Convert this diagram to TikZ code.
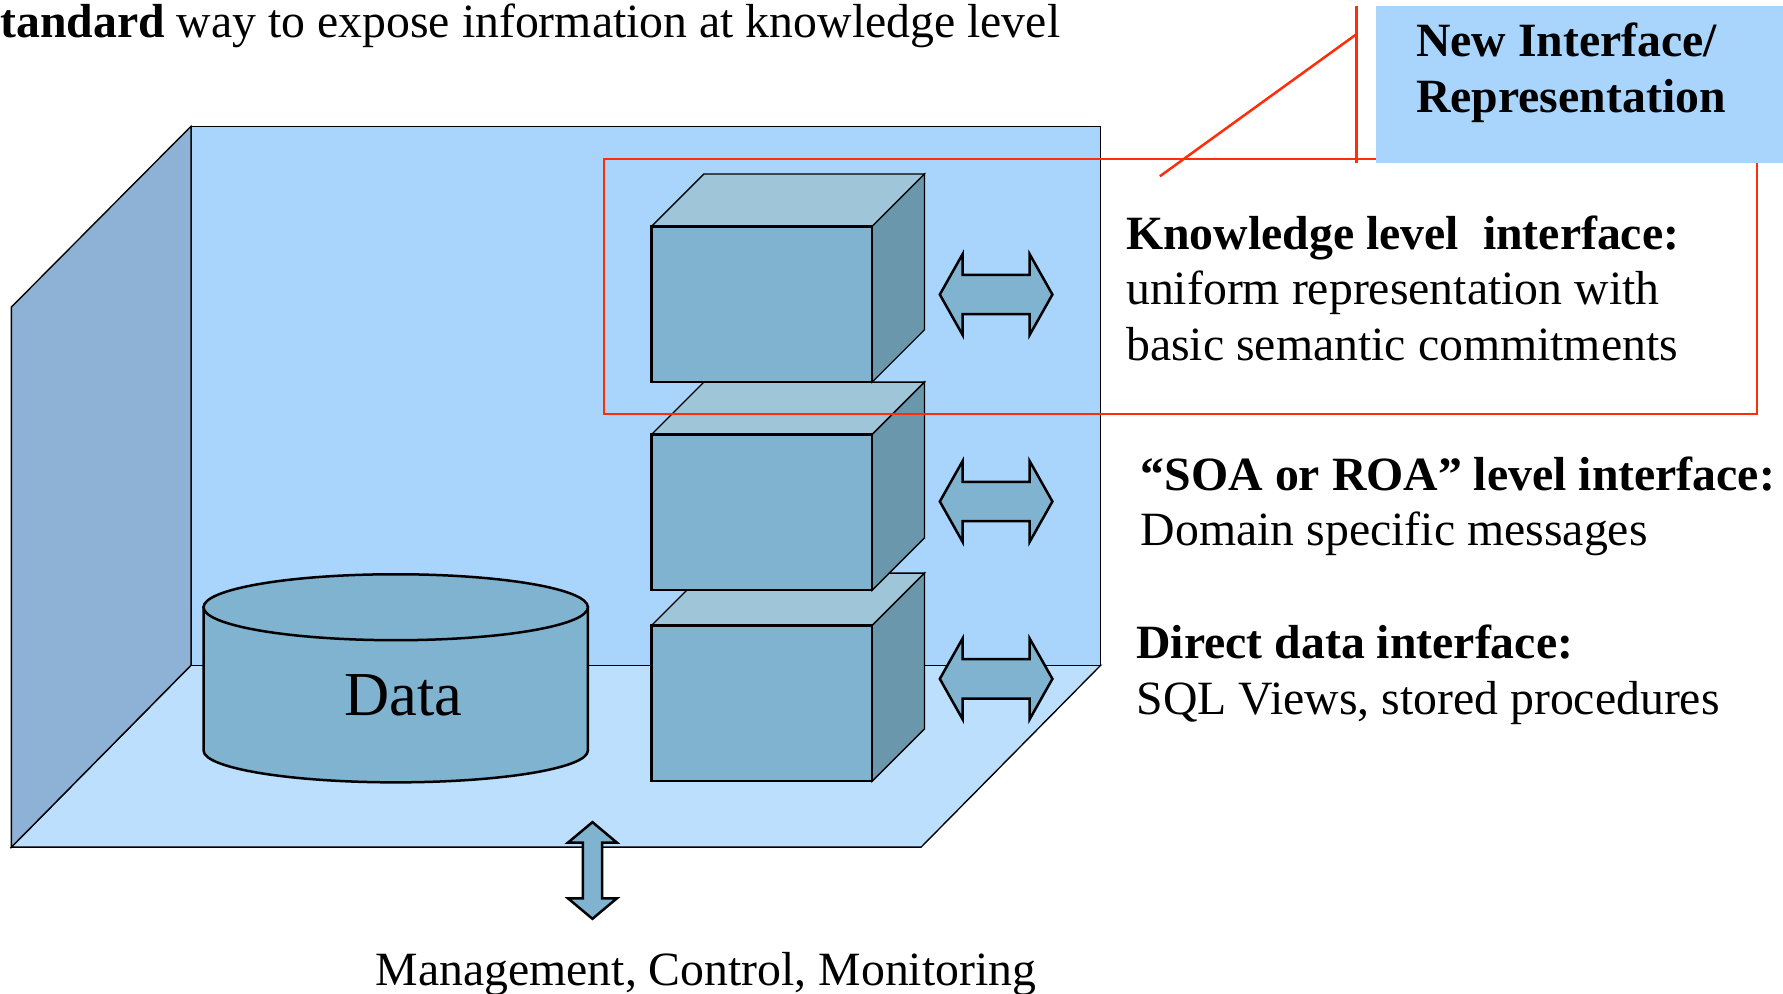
\documentclass[tikz,border=0pt]{standalone}
\usepackage{fontspec}
\setmainfont{Liberation Serif}
\definecolor{wallback}{HTML}{A9D5FC}
\definecolor{wallside}{HTML}{8DB2D5}
\definecolor{floorc}{HTML}{BBDFFD}
\definecolor{cubefront}{HTML}{80B3D0}
\definecolor{cubetop}{HTML}{9EC5D8}
\definecolor{cubeside}{HTML}{6A97AC}
\definecolor{hilite}{HTML}{FF2D0A}
\tikzset{
  lbl/.style={font=\fontsize{21}{24.5}\selectfont, inner sep=0pt, anchor=base west},
  thinedge/.style={draw=black, line width=0.6pt},
  thickedge/.style={draw=black, line width=1.1pt, line join=miter},
  redline/.style={draw=hilite, line width=1.1pt},
  fatarrow/.style={fill=cubefront, draw=black, line width=1.1pt, line join=miter},
  % a box seen in perspective; origin at the front top-left corner
  block/.pic={
    \path[fill=cubetop, thinedge] (0,0) -- (46,-46) -- (240,-46) -- (194,0) -- cycle;
    \path[fill=cubeside, thinedge] (194,0) -- (240,-46) -- (240,91) -- (194,137) -- cycle;
    \path[fill=cubefront, thickedge] (0,0) rectangle (194,137);
  },
  % horizontal double-headed block arrow, centred at the origin
  harrow/.pic={
    \path[fatarrow] (-49.5,0) -- (-29.5,-35.5) -- (-29.5,-17.3) -- (29.5,-17.3)
      -- (29.5,-35.5) -- (49.5,0) -- (29.5,35.5) -- (29.5,17.3) -- (-29.5,17.3)
      -- (-29.5,35.5) -- cycle;
  },
  % vertical double-headed block arrow, centred at the origin
  varrow/.pic={
    \path[fatarrow] (0,-42.5) -- (21.5,-24.5) -- (8.5,-24.5) -- (8.5,24.5)
      -- (21.5,24.5) -- (0,42.5) -- (-21.5,24.5) -- (-8.5,24.5) -- (-8.5,-24.5)
      -- (-21.5,-24.5) -- cycle;
  }
}
\begin{document}
\begin{tikzpicture}[x=0.5pt, y=-0.5pt]
\useasboundingbox (0,0) rectangle (1568,874);

% room: floor, back wall, left wall
\path[fill=floorc, thinedge] (168,585) -- (968,585) -- (810,745) -- (10,745) -- cycle;
\path[fill=wallback, thinedge] (168,111) rectangle (968,585);
\path[fill=wallside, thinedge] (10,270) -- (168,111) -- (168,585) -- (10,745) -- cycle;

% data store
\path[fill=cubefront, thickedge] (179,534) -- (179,660)
  arc[start angle=180, end angle=0, x radius=169, y radius=28] -- (517,534) -- cycle;
\path[fill=cubefront, thickedge] (348,534) ellipse[x radius=169, y radius=29];
\node[font=\fontsize{27.5}{32}\selectfont, inner sep=0pt, anchor=base] (data) at (355,629) {Data};

% stacked interface blocks, lowest first
\pic at (573,550) {block};
\pic at (573,382) {block};
\pic at (573,199) {block};

% exchange arrows
\pic at (876,259) {harrow};
\pic at (876,441) {harrow};
\pic at (876,597) {harrow};
\pic at (521,765.5) {varrow};

% highlight frame around the knowledge level
\path[redline] (531,140) rectangle (1545,364);
\path[redline] (1193,5) -- (1193,143);
\path[redline] (1020,155) -- (1193,30);

% callout
\fill[wallback] (1210,5) rectangle (1568,143);
\node[lbl] (newif) at (1245,50) {\bfseries New Interface/};
\node[lbl] (newrep) at (1245,99) {\bfseries Representation};

% captions
\node[lbl] (title) at (0,33) {\textbf{tandard} way to expose information at knowledge level};
\node[lbl] (kh) at (990,219) {\bfseries Knowledge level\ \ interface:};
\node[lbl] (k1) at (990,268) {uniform representation with};
\node[lbl] (k2) at (990,317) {basic semantic commitments};
\node[lbl] (sh) at (1003,431) {\bfseries “SOA or ROA” level interface:};
\node[lbl] (s1) at (1003,480) {Domain specific messages};
\node[lbl] (dh) at (999,579) {\bfseries Direct data interface:};
\node[lbl] (d1) at (999,628) {SQL Views, stored procedures};
\node[lbl] (mgmt) at (330,867) {Management, Control, Monitoring};
\end{tikzpicture}
\end{document}
